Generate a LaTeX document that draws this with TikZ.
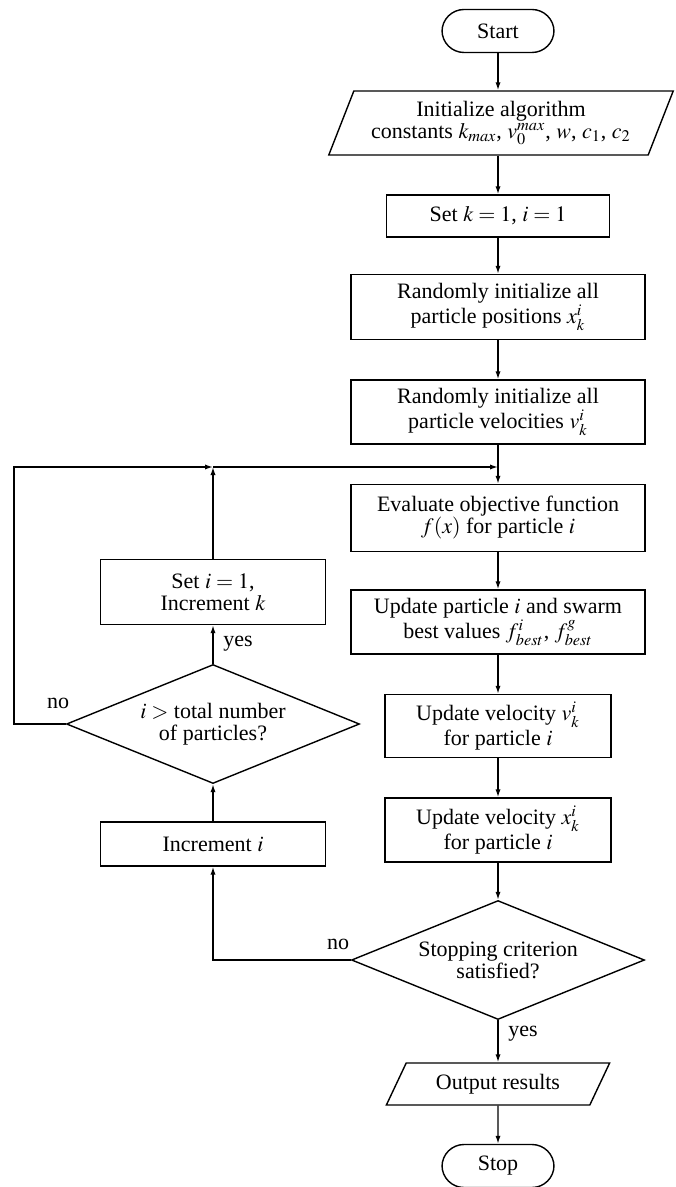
\documentclass[tikz,border=0pt]{standalone}
\usepackage{mathptmx}
\usepackage{fontspec}
\setmainfont{Liberation Serif}
\usetikzlibrary{shapes.geometric,arrows.meta}
\begin{document}
\begin{tikzpicture}[x=0.5pt,y=-0.5pt,
  every node/.style={font=\fontsize{11}{11}\selectfont, align=center, inner sep=1pt},
  box/.style={draw, line width=0.7pt, rectangle, minimum width=#1},
  term/.style={draw, line width=0.7pt, rounded corners=11pt, minimum width=56pt, minimum height=21.5pt},
  io/.style={draw, line width=0.7pt, trapezium, trapezium stretches=true, trapezium left angle=#1, trapezium right angle=180-#1},
  dia/.style={draw, line width=0.7pt, diamond, aspect=2.46, inner sep=0pt, minimum width=146.5pt, minimum height=59.5pt},
  conn/.style={line width=0.7pt, -{Latex[length=4pt,width=2.6pt]}},
  lbl/.style={inner sep=0pt}
]
\useasboundingbox (0,0) rectangle (675,1187);
\node[term] (start) at (498,31) {Start};
\node[io=65, minimum width=172.5pt, minimum height=32pt] (init) at (501,123) {Initialize algorithm\\constants $k_{max}$, $v_0^{max}$, $w$, $c_1$, $c_2$};
\node[box=111.5pt, minimum height=21pt] (set) at (498,216) {Set $k=1$, $i=1$};
\node[box=147pt, minimum height=32.5pt] (pos) at (498,307) {Randomly initialize all\\particle positions $x_k^i$};
\node[box=147pt, minimum height=32pt] (vel) at (498,412) {Randomly initialize all\\particle velocities $v_k^i$};
\coordinate (m) at (498,467);
\coordinate (j) at (213,467);
\coordinate (lc) at (14,467);
\node[box=147pt, minimum height=33.5pt] (eval) at (498,518) {Evaluate objective function\\$f(x)$ for particle $i$};
\node[box=147pt, minimum height=32pt] (upd) at (498,622) {Update particle $i$ and swarm\\best values $f_{best}^i$, $f_{best}^g$};
\node[box=113pt, minimum height=31.5pt] (uv) at (498,726) {Update velocity $v_k^i$\\for particle $i$};
\node[box=113pt, minimum height=32pt] (ux) at (498,830) {Update velocity $x_k^i$\\for particle $i$};
\node[dia] (stopq) at (498,960) {Stopping criterion\\satisfied?};
\node[io=60, minimum width=112pt, minimum height=21pt] (out) at (498,1084) {Output results};
\node[term] (stop) at (498,1166) {Stop};
\node[box=112.5pt, minimum height=32.5pt] (seti) at (213,592) {Set $i=1$,\\Increment $k$};
\node[dia] (dec) at (213,724) {$i>$ total number\\of particles?};
\node[box=112.5pt, minimum height=22pt] (inci) at (213,844) {Increment $i$};

\draw[conn] (start) -- (start.south |- init.north);
\draw[conn] (set.north |- init.south) -- (set);
\draw[conn] (set) -- (pos);
\draw[conn] (pos) -- (vel);
\draw[conn] (vel) -- (eval);
\draw[conn] (eval) -- (upd);
\draw[conn] (upd) -- (uv);
\draw[conn] (uv) -- (ux);
\draw[conn] (ux) -- (stopq);
\draw[conn] (stopq) -- (out);
\draw[conn] (out) -- (stop);
\draw[conn] (stopq.west) -| (inci.south);
\draw[conn] (inci) -- (dec);
\draw[conn] (dec) -- (seti);
\draw[conn] (seti) -- (j);
\draw[conn] (dec.west) -| (lc) -- (j);
\draw[conn] (j) -- (m);
\node[lbl] (no1) at (58,703) {no};
\node[lbl] (yes1) at (238,644) {yes};
\node[lbl] (no2) at (338,944) {no};
\node[lbl] (yes2) at (523,1034) {yes};
\end{tikzpicture}
\end{document}
